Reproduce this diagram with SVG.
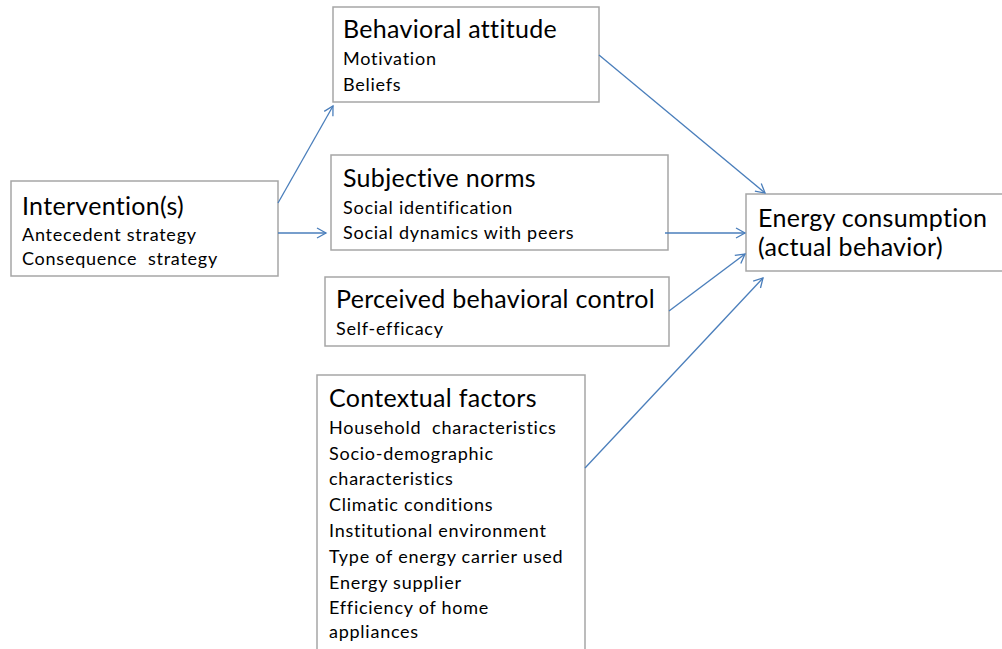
<svg xmlns="http://www.w3.org/2000/svg" width="1002" height="649" viewBox="0 0 1002 649">
<style>
.box{fill:#fff;stroke:#a6a6a6;stroke-width:1.5}
.t{font-family:Lato,"Open Sans",sans-serif;font-size:25px;letter-spacing:0.3px;fill:#000;font-variant-ligatures:none}
.s{font-family:Lato,"Open Sans",sans-serif;font-size:18px;letter-spacing:0.75px;fill:#000;font-variant-ligatures:none;white-space:pre}
.c{fill:none;stroke:#4a7ebb;stroke-width:1.3}
</style>
<defs>
<marker id="a" markerWidth="12" markerHeight="12" refX="10" refY="6" orient="auto" markerUnits="userSpaceOnUse">
<path d="M1,1 L10,6 L1,11" fill="none" stroke="#4a7ebb" stroke-width="1.3"/>
</marker>
</defs>
<rect width="1002" height="649" fill="#fff"/>
<g id="intervention">
<rect class="box" x="11" y="181" width="267" height="95"/>
<text class="t" x="22" y="215">Intervention(s)</text>
<text class="s" x="22" y="241">Antecedent strategy</text>
<text class="s" x="22" y="265" xml:space="preserve">Consequence  strategy</text>
</g>
<g id="attitude">
<rect class="box" x="333" y="7" width="266" height="95"/>
<text class="t" x="343" y="38">Behavioral attitude</text>
<text class="s" x="343" y="65">Motivation</text>
<text class="s" x="343" y="91">Beliefs</text>
</g>
<g id="norms">
<rect class="box" x="331" y="155" width="337" height="95"/>
<text class="t" x="343" y="187">Subjective norms</text>
<text class="s" x="343" y="214">Social identification</text>
<text class="s" x="343" y="239">Social dynamics with peers</text>
</g>
<g id="control">
<rect class="box" x="325" y="277" width="344" height="69"/>
<text class="t" x="336" y="308">Perceived behavioral control</text>
<text class="s" x="336" y="335">Self-efficacy</text>
</g>
<g id="context">
<rect class="box" x="317" y="375" width="268" height="280"/>
<text class="t" x="329" y="407">Contextual factors</text>
<text class="s" x="329" y="434" xml:space="preserve">Household  characteristics</text>
<text class="s" x="329" y="460">Socio-demographic</text>
<text class="s" x="329" y="485">characteristics</text>
<text class="s" x="329" y="511">Climatic conditions</text>
<text class="s" x="329" y="537">Institutional environment</text>
<text class="s" x="329" y="563">Type of energy carrier used</text>
<text class="s" x="329" y="589">Energy supplier</text>
<text class="s" x="329" y="614">Efficiency of home</text>
<text class="s" x="329" y="638">appliances</text>
</g>
<g id="energy">
<rect class="box" x="746" y="194" width="260" height="77"/>
<text class="t" x="758" y="227">Energy consumption</text>
<text class="t" x="758" y="256">(actual behavior)</text>
</g>
<g id="connectors">
<line class="c" x1="278" y1="203" x2="333" y2="106" marker-end="url(#a)"/>
<line class="c" x1="278" y1="233" x2="326" y2="233" marker-end="url(#a)"/>
<line class="c" x1="599" y1="55" x2="765" y2="193" marker-end="url(#a)"/>
<line class="c" x1="665" y1="233" x2="745" y2="233" marker-end="url(#a)"/>
<line class="c" x1="669" y1="311" x2="745" y2="254" marker-end="url(#a)"/>
<line class="c" x1="585" y1="468" x2="763" y2="278" marker-end="url(#a)"/>
</g>
</svg>
